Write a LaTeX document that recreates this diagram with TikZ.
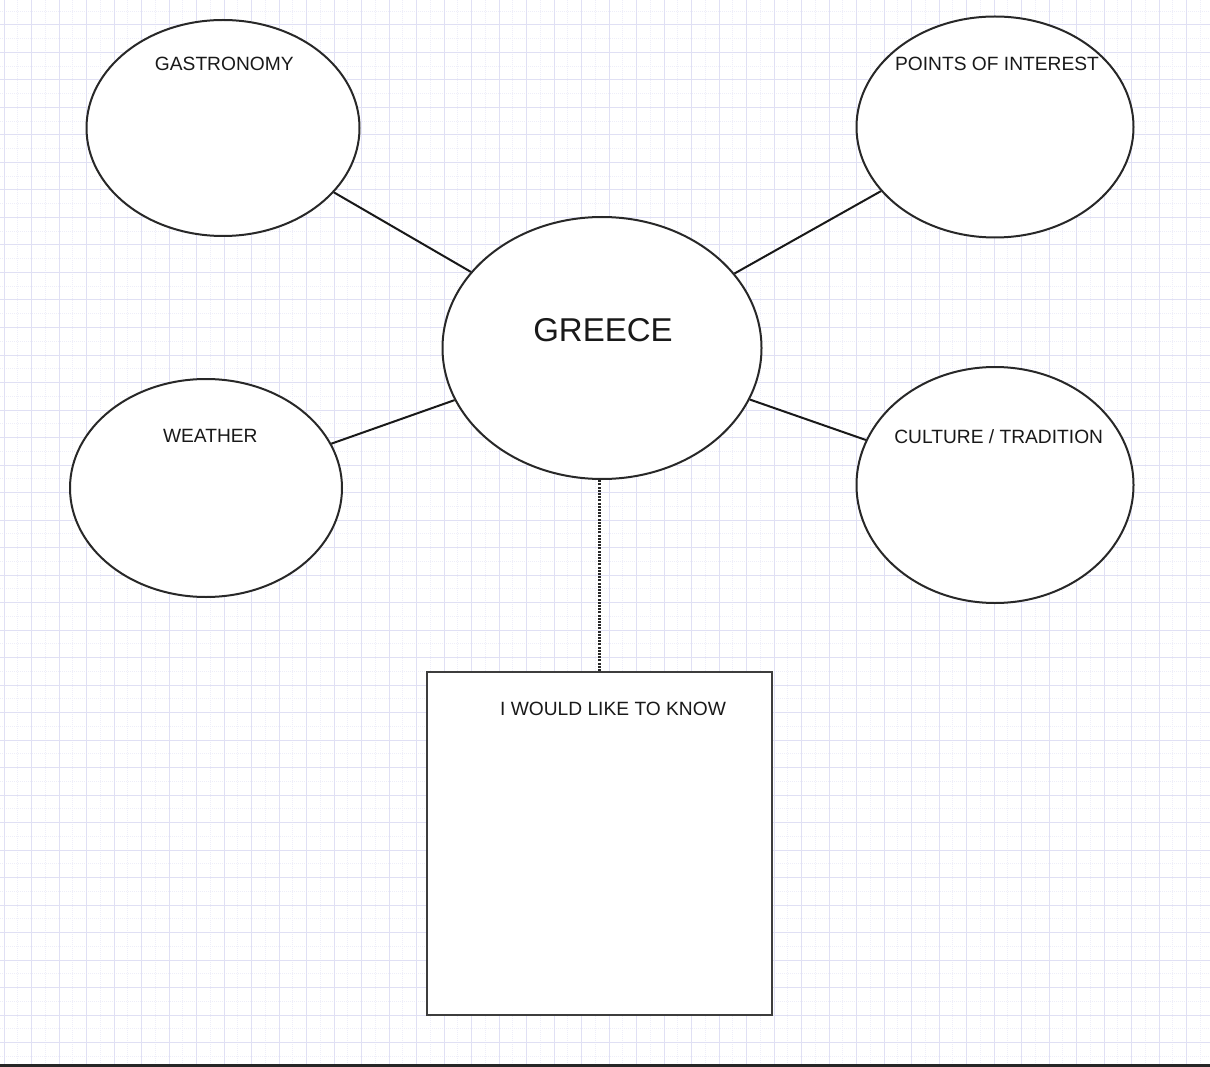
\documentclass[tikz,border=0pt]{standalone}
\usepackage{fontspec}
\setmainfont{Liberation Sans}
\usetikzlibrary{shapes.geometric}
\definecolor{gridmaj}{RGB}{224,224,244}
\definecolor{gridmin}{RGB}{238,238,249}
\definecolor{inkc}{RGB}{40,40,40}
\definecolor{txtc}{RGB}{25,25,25}
\tikzset{
  bubble/.style={ellipse, draw=inkc, fill=white, line width=2pt, inner sep=0pt},
  boxnode/.style={rectangle, draw=inkc!90!white, fill=white, line width=2.2pt, inner sep=0pt},
  lbl/.style={text=txtc, font=\fontsize{19.2pt}{22pt}\selectfont, inner sep=0pt, anchor=base},
  biglbl/.style={text=txtc, font=\fontsize{33pt}{38pt}\selectfont, inner sep=0pt, anchor=base},
  link/.style={draw=black!90, line width=2pt},
  dotline/.style={draw=inkc, line width=2.4pt, dash pattern=on 2pt off 1.2pt},
}
\begin{document}
\begin{tikzpicture}[x=1pt, y=-1pt]
  \useasboundingbox (0,0) rectangle (1210,1067);
  \fill[white] (0,0) rectangle (1210,1067);
  % minor grid
  \foreach \k in {0,...,43} {
    \draw[gridmin, line width=0.8pt, dash pattern=on 1pt off 1pt] ({17.75+27.5*\k},0) -- ({17.75+27.5*\k},1064);
  }
  \foreach \k in {0,...,38} {
    \draw[gridmin, line width=0.8pt, dash pattern=on 1pt off 1pt] (0,{11.25+27.5*\k}) -- (1210,{11.25+27.5*\k});
  }
  % major grid
  \foreach \k in {0,...,43} {
    \draw[gridmaj, line width=1pt] ({4+27.5*\k},0) -- ({4+27.5*\k},1064);
  }
  \foreach \k in {1,...,38} {
    \draw[gridmaj, line width=1pt] (0,{-2.5+27.5*\k}) -- (1210,{-2.5+27.5*\k});
  }
  \fill[black!85] (0,1063.5) rectangle (1210,1067);

  % shapes
  \node[bubble, minimum width=319pt, minimum height=262pt] (greece) at (602,348) {};
  \node[bubble, minimum width=273pt, minimum height=216pt] (gastro) at (223,128) {};
  \node[bubble, minimum width=277pt, minimum height=221pt] (poi) at (995,127) {};
  \node[bubble, minimum width=272pt, minimum height=218pt] (weather) at (206,488) {};
  \node[bubble, minimum width=277pt, minimum height=236pt] (culture) at (995,485) {};
  \node[boxnode, minimum width=345pt, minimum height=343pt] (know) at (599.5,843.5) {};

  % connectors
  \draw[link] (gastro) -- (greece);
  \draw[link] (poi) -- (greece);
  \draw[link] (weather) -- (greece);
  \draw[link] (culture) -- (greece);
  \draw[dotline] (know.north) -- (know.north |- greece.south);

  % labels
  \node[biglbl] (greeceT) at (603,341.5) {GREECE};
  \node[lbl] (gastroT) at (224.3,70.5) {GASTRONOMY};
  \node[lbl] (poiT) at (997,70.5) {POINTS OF INTEREST};
  \node[lbl] (weatherT) at (210.3,442.8) {WEATHER};
  \node[lbl] (cultureT) at (998.7,443) {CULTURE / TRADITION};
  \node[lbl] (knowT) at (613,715) {I WOULD LIKE TO KNOW};
\end{tikzpicture}
\end{document}
